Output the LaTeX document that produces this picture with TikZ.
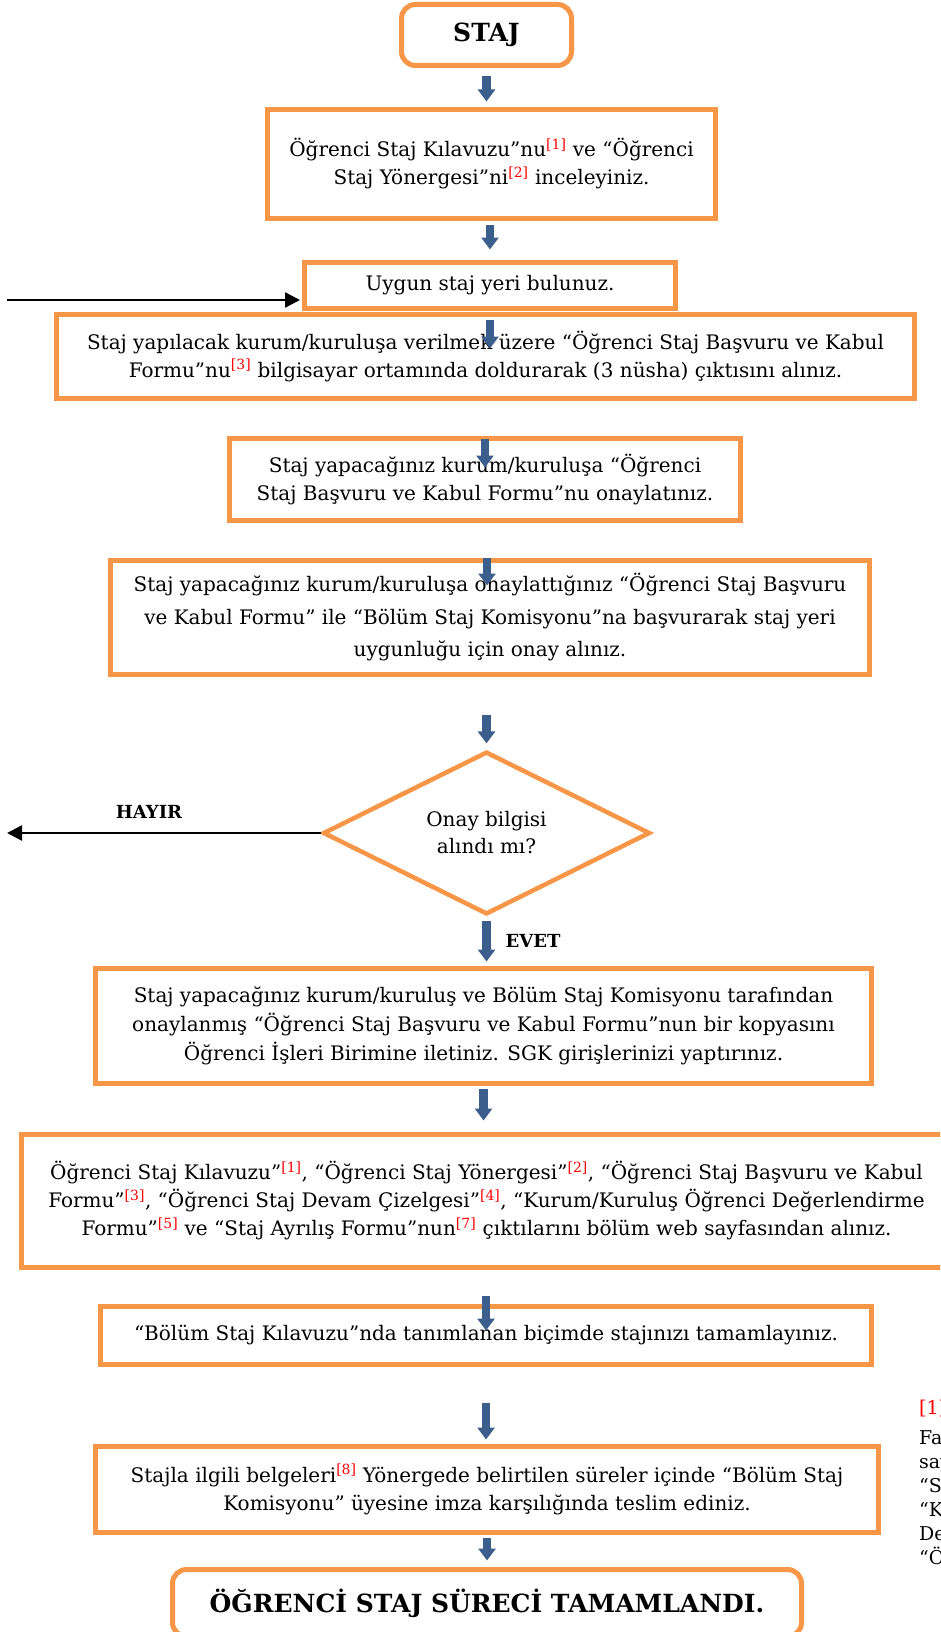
\documentclass[tikz,border=0pt]{standalone}
\usepackage{fontspec}
\setmainfont{DejaVu Serif}
\usetikzlibrary{arrows.meta,shapes.geometric}

\definecolor{boxorange}{HTML}{F79646}
\definecolor{arrowblue}{HTML}{3B5E8C}
\newcommand{\fnref}[1]{\textsuperscript{\textcolor{red}{[#1]}}}

\tikzset{
  stepbox/.style={draw=boxorange, line width=5pt, fill=white, align=center,
    inner sep=0pt, font=\fontsize{20}{28}\selectfont},
  endbox/.style={stepbox, rounded corners=14pt, font=\fontsize{25}{30}\selectfont\bfseries},
  decision/.style={diamond, draw=boxorange, line width=4.5pt, fill=white, align=center,
    inner sep=0pt, font=\fontsize{20}{27}\selectfont},
  blockarrow/.style={arrowblue, line width=8.5pt, -{Triangle[width=17pt,length=12pt]}},
  linearrow/.style={black, line width=2.5pt, -{Triangle[width=15pt,length=15pt]}},
  answer/.style={font=\fontsize{18}{20}\selectfont\bfseries, inner sep=0pt},
}

\begin{document}
\begin{tikzpicture}[x=1pt,y=-1pt]
      \useasboundingbox (0,0) rectangle (940,1632);
      \clip (0,0) rectangle (940,1632);
      \fill[white] (0,0) rectangle (940,1632);
      \draw
        (486.5,35) node[endbox, minimum width=170pt, minimum height=61pt] (staj) {STAJ}
        (491.5,164) node[stepbox, minimum width=448pt, minimum height=109pt] (incele)
          {Öğrenci Staj Kılavuzu”nu\fnref{1} ve “Öğrenci\\Staj Yönergesi”ni\fnref{2} inceleyiniz.}
        (490,285.5) node[stepbox, minimum width=371pt, minimum height=46pt] (uygun)
          {Uygun staj yeri bulunuz.}
        (485.5,356.5) node[stepbox, minimum width=858pt, minimum height=84pt] (formu)
          {Staj yapılacak kurum/kuruluşa verilmek üzere “Öğrenci Staj Başvuru ve Kabul\\Formu”nu\fnref{3} bilgisayar ortamında doldurarak (3 nüsha) çıktısını alınız.}
        (485,479.5) node[stepbox, minimum width=511pt, minimum height=82pt] (onayla)
          {Staj yapacağınız kurum/kuruluşa “Öğrenci\\Staj Başvuru ve Kabul Formu”nu onaylatınız.}
        (490,617.5) node[stepbox, minimum width=759pt, minimum height=114pt,
          font=\fontsize{20}{32.5}\selectfont] (basvur)
          {Staj yapacağınız kurum/kuruluşa onaylattığınız “Öğrenci Staj Başvuru\\ve Kabul Formu” ile “Bölüm Staj Komisyonu”na başvurarak staj yeri\\uygunluğu için onay alınız.}
        (486.5,833) node[decision, minimum width=327pt, minimum height=154pt] (karar)
          {Onay bilgisi\\alındı mı?}
        (483.5,1026) node[stepbox, minimum width=776pt, minimum height=115pt,
          font=\fontsize{20}{29}\selectfont] (ilet)
          {Staj yapacağınız kurum/kuruluş ve Bölüm Staj Komisyonu tarafından\\onaylanmış “Öğrenci Staj Başvuru ve Kabul Formu”nun bir kopyasını\\Öğrenci İşleri Birimine iletiniz. SGK girişlerinizi yaptırınız.}
        (486.5,1201) node[stepbox, minimum width=930pt, minimum height=133pt] (cikti)
          {Öğrenci Staj Kılavuzu”\fnref{1}, “Öğrenci Staj Yönergesi”\fnref{2}, “Öğrenci Staj Başvuru ve Kabul\\Formu”\fnref{3}, “Öğrenci Staj Devam Çizelgesi”\fnref{4}, “Kurum/Kuruluş Öğrenci Değerlendirme\\Formu”\fnref{5} ve “Staj Ayrılış Formu”nun\fnref{7} çıktılarını bölüm web sayfasından alınız.}
        (486,1335.5) node[stepbox, minimum width=771pt, minimum height=58pt] (tamamla)
          {“Bölüm Staj Kılavuzu”nda tanımlanan biçimde stajınızı tamamlayınız.}
        (487,1489.5) node[stepbox, minimum width=783pt, minimum height=86pt] (teslim)
          {Stajla ilgili belgeleri\fnref{8} Yönergede belirtilen süreler içinde “Bölüm Staj\\Komisyonu” üyesine imza karşılığında teslim ediniz.}
        (487,1603) node[endbox, minimum width=629pt, minimum height=67pt] (son)
          {ÖĞRENCİ STAJ SÜRECİ TAMAMLANDI.};
      \node[answer] (hayir) at (149,812) {HAYIR};
      \node[answer] (evet) at (533,941) {EVET};
      \node[anchor=north west, align=left, inner sep=0pt,
        font=\fontsize{19}{24}\selectfont] (kaynak) at (919,1400)
        {\textcolor{red}{[1]}\\[6pt]Fa\\say\\“St\\“K\\De\\“Ö};
      \coordinate (geri) at (7,300);
      \coordinate (ret) at (7,833);
      \begin{scope}[blockarrow]
        \draw[shorten <=8.5pt, shorten >=5.5pt] (staj.south) -- (staj.south |- incele.north);
        \draw[shorten <=3.5pt, shorten >=10.5pt] (uygun.north |- incele.south) -- (uygun.north);
        \draw ([yshift=-8.5pt]uygun.south) -- ([yshift=-37.5pt]uygun.south);
        \draw ([yshift=-2.5pt]onayla.north) -- ([yshift=-31.5pt]onayla.north);
        \draw ([xshift=-3pt]basvur.north) -- ([xshift=-3pt,yshift=-27.5pt]basvur.north);
        \draw[shorten <=37.5pt, shorten >=6pt] (karar.north |- basvur.south) -- (karar.north);
        \draw[shorten <=4pt, shorten >=4.5pt] (karar.south) -- (karar.south |- ilet.north);
        \draw[shorten <=2.5pt, shorten >=11.5pt] (ilet.south) -- (ilet.south |- cikti.north);
        \draw ([yshift=8.5pt]tamamla.north) -- ([yshift=-26.5pt]tamamla.north);
        \draw[shorten <=35.5pt, shorten >=4.5pt] (tamamla.south) -- (tamamla.south |- teslim.north);
        \draw[shorten <=3pt, shorten >=6.5pt] (teslim.south) -- (teslim.south |- son.north);
      \end{scope}
      \draw[linearrow, shorten >=2pt] (geri) -- (geri -| uygun.west);
      \draw[linearrow] (karar.west) -- (ret);
    \end{tikzpicture}
\end{document}
